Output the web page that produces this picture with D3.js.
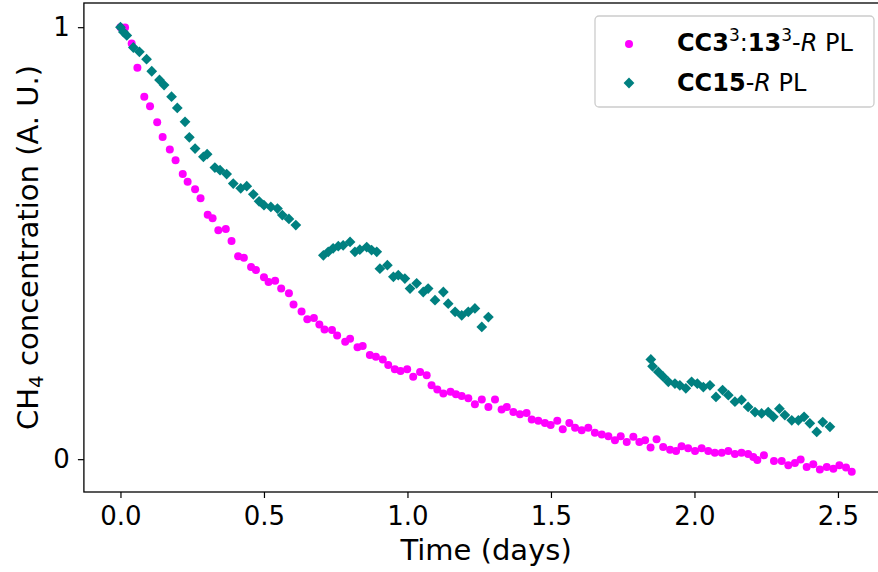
<!DOCTYPE html>
<html>
<head>
<meta charset="utf-8">
<script src="https://cdn.jsdelivr.net/npm/d3@7"></script>
<style>
  body { margin: 0; background: #fff; }
  svg { display: block; font-family: "DejaVu Sans", sans-serif; }
</style>
</head>
<body>
<svg id="chart" width="878" height="572"></svg>
<script>
// CC3^3:13^3-R PL, magenta circles (time in days, normalised CH4)
const ccTime = [0.000,0.016,0.039,0.059,0.083,0.103,0.128,0.147,0.172,0.192,
  0.217,0.234,0.260,0.279,0.304,0.321,0.341,0.367,0.387,0.410,
  0.430,0.455,0.472,0.500,0.516,0.539,0.560,0.587,0.603,0.631,
  0.651,0.674,0.693,0.711,0.737,0.755,0.783,0.800,0.826,0.844,
  0.869,0.890,0.914,0.933,0.956,0.976,0.999,1.020,1.044,1.067,
  1.084,1.104,1.125,1.150,1.169,1.189,1.212,1.235,1.259,1.282,
  1.305,1.328,1.346,1.369,1.392,1.415,1.433,1.456,1.479,1.499,
  1.522,1.541,1.564,1.584,1.607,1.630,1.653,1.677,1.700,1.723,
  1.743,1.764,1.787,1.808,1.828,1.847,1.868,1.891,1.915,1.936,
  1.955,1.978,2.002,2.025,2.048,2.071,2.095,2.118,2.141,2.164,
  2.187,2.205,2.219,2.242,2.277,2.304,2.327,2.350,2.370,2.391,
  2.414,2.437,2.461,2.484,2.505,2.528,2.548]
const ccValue = [1.000,0.999,0.962,0.906,0.839,0.817,0.780,0.746,0.717,0.692,
  0.660,0.642,0.625,0.604,0.566,0.558,0.530,0.533,0.505,0.470,
  0.466,0.445,0.438,0.421,0.410,0.413,0.395,0.384,0.358,0.342,
  0.324,0.327,0.312,0.300,0.299,0.286,0.272,0.279,0.259,0.262,
  0.241,0.237,0.231,0.218,0.208,0.204,0.208,0.191,0.202,0.194,
  0.171,0.161,0.152,0.156,0.150,0.146,0.141,0.127,0.138,0.121,
  0.138,0.115,0.121,0.109,0.104,0.107,0.092,0.089,0.084,0.079,
  0.089,0.069,0.084,0.073,0.067,0.073,0.061,0.057,0.053,0.044,
  0.053,0.040,0.052,0.040,0.044,0.027,0.046,0.028,0.022,0.019,
  0.030,0.025,0.019,0.025,0.019,0.015,0.015,0.019,0.012,0.015,
  0.012,0.005,-0.002,0.009,-0.004,-0.004,-0.014,-0.009,-0.001,-0.018,
  -0.012,-0.024,-0.018,-0.022,-0.014,-0.019,-0.029]

// CC15-R PL, teal diamonds - three separate runs
const c15Time = [0.000,0.010,0.022,0.045,0.066,0.091,0.109,0.136,0.152,0.178,
  0.198,0.225,0.240,0.260,0.289,0.302,0.329,0.347,0.370,0.393,
  0.419,0.440,0.463,0.483,0.500,0.524,0.547,0.564,0.587,0.611,
  // second run
  0.707,0.724,0.741,0.759,0.776,0.800,0.817,0.834,0.858,0.875,
  0.893,0.904,0.930,0.951,0.968,0.991,1.009,1.032,1.055,1.072,
  1.096,1.125,1.142,1.166,1.189,1.212,1.235,1.259,1.282,
  // third run
  1.848,1.854,1.874,1.891,1.909,1.932,1.949,1.970,1.990,2.010,
  2.031,2.054,2.075,2.098,2.118,2.141,2.164,2.187,2.211,2.234,
  2.257,2.275,2.296,2.315,2.339,2.362,2.382,2.402,2.426,2.447,2.472]
const c15Value = [1.000,0.989,0.981,0.953,0.943,0.926,0.898,0.878,0.866,0.839,
  0.813,0.781,0.745,0.719,0.700,0.706,0.675,0.669,0.660,0.638,
  0.627,0.632,0.613,0.597,0.588,0.584,0.580,0.565,0.556,0.542,
  0.472,0.480,0.488,0.493,0.495,0.503,0.480,0.485,0.491,0.484,
  0.480,0.441,0.449,0.422,0.426,0.418,0.395,0.407,0.387,0.395,
  0.368,0.387,0.360,0.341,0.333,0.341,0.349,0.306,0.329,
  0.231,0.215,0.202,0.191,0.179,0.175,0.171,0.164,0.179,0.175,
  0.167,0.171,0.144,0.160,0.148,0.133,0.137,0.121,0.109,0.106,
  0.109,0.098,0.117,0.102,0.090,0.090,0.098,0.083,0.063,0.086,0.075]

const xTicks = [0, 0.5, 1, 1.5, 2, 2.5]
const yTicks = [0, 1]

const magenta = "#ff00ff", teal = "#008080"

const svg = d3.select("#chart")

// plot frame (right edge falls outside the picture, like the cropped figure)
const plotLeft = 83.9, plotRight = 888.3, plotTop = 3, plotBottom = 492
const x = d3.scaleLinear().domain([-0.1274, 2.6754]).range([plotLeft, plotRight])
const y = d3.scaleLinear().domain([-0.076, 1.056]).range([plotBottom, plotTop])

const ccData = d3.zip(ccTime, ccValue)
const c15Data = d3.zip(c15Time, c15Value)

// magenta first, teal drawn over it
svg.append("g")
  .selectAll("circle")
  .data(ccData)
  .join("circle")
  .attr("cx", d => x(d[0]))
  .attr("cy", d => y(d[1]))
  .attr("r", 4)
  .attr("fill", magenta)

const diamond = d3.symbol(d3.symbolSquare, 58)
svg.append("g")
  .selectAll("path")
  .data(c15Data)
  .join("path")
  .attr("d", diamond)
  .attr("transform", d => `translate(${x(d[0])},${y(d[1])}) rotate(45)`)
  .attr("fill", teal)

// axes
const xAxis = d3.axisBottom(x).tickValues(xTicks).tickFormat(d3.format(".1f"))
  .tickSize(6).tickPadding(9)
const yAxis = d3.axisLeft(y).tickValues(yTicks).tickFormat(d3.format("d"))
  .tickSize(6).tickPadding(8)

const gx = svg.append("g").attr("transform", `translate(0,${plotBottom})`).call(xAxis)
const gy = svg.append("g").attr("transform", `translate(${plotLeft},0)`).call(yAxis)
for (const g of [gx, gy]) {
  g.select(".domain").remove()
  g.selectAll(".tick line").attr("stroke", "#000").attr("stroke-width", 1.2)
  g.selectAll(".tick text")
    .attr("fill", "#000")
    .attr("font-size", 26)
    .attr("font-family", "DejaVu Sans")
}

// spines
svg.append("rect")
  .attr("x", plotLeft).attr("y", plotTop)
  .attr("width", plotRight - plotLeft).attr("height", plotBottom - plotTop)
  .attr("fill", "none")
  .attr("stroke", "#000")
  .attr("stroke-width", 1.3)

// axis labels
svg.append("text")
  .attr("x", (plotLeft + plotRight) / 2)
  .attr("y", 560)
  .attr("text-anchor", "middle")
  .attr("font-size", 29)
  .text("Time (days)")

const ylab = svg.append("text")
  .attr("transform", `translate(38,${(plotTop + plotBottom) / 2}) rotate(-90)`)
  .attr("text-anchor", "middle")
  .attr("font-size", 29)
ylab.append("tspan").text("CH")
ylab.append("tspan").attr("font-size", 20).attr("dy", 5).text("4")
ylab.append("tspan").attr("dy", -5).text(" concentration (A. U.)")

// legend
const legend = svg.append("g")
legend.append("rect")
  .attr("x", 595).attr("y", 16)
  .attr("width", 279).attr("height", 91)
  .attr("rx", 4)
  .attr("fill", "#fff").attr("fill-opacity", 0.8)
  .attr("stroke", "#cccccc").attr("stroke-width", 1.3)

legend.append("circle")
  .attr("cx", 629).attr("cy", 44).attr("r", 4)
  .attr("fill", magenta)
legend.append("path")
  .attr("d", diamond)
  .attr("transform", "translate(629,83) rotate(45)")
  .attr("fill", teal)

const t1 = legend.append("text").attr("x", 677).attr("y", 51).attr("font-size", 24)
t1.append("tspan").attr("font-weight", "bold").text("CC3")
t1.append("tspan").attr("font-size", 17).attr("dy", -10).text("3")
t1.append("tspan").attr("dy", 10).text(":")
t1.append("tspan").attr("font-weight", "bold").text("13")
t1.append("tspan").attr("font-size", 17).attr("dy", -10).text("3")
t1.append("tspan").attr("dy", 10).text("-")
t1.append("tspan").attr("font-style", "italic").text("R")
t1.append("tspan").text(" PL")

const t2 = legend.append("text").attr("x", 677).attr("y", 91).attr("font-size", 24)
t2.append("tspan").attr("font-weight", "bold").text("CC15")
t2.append("tspan").text("-")
t2.append("tspan").attr("font-style", "italic").text("R")
t2.append("tspan").text(" PL")
</script>
</body>
</html>
